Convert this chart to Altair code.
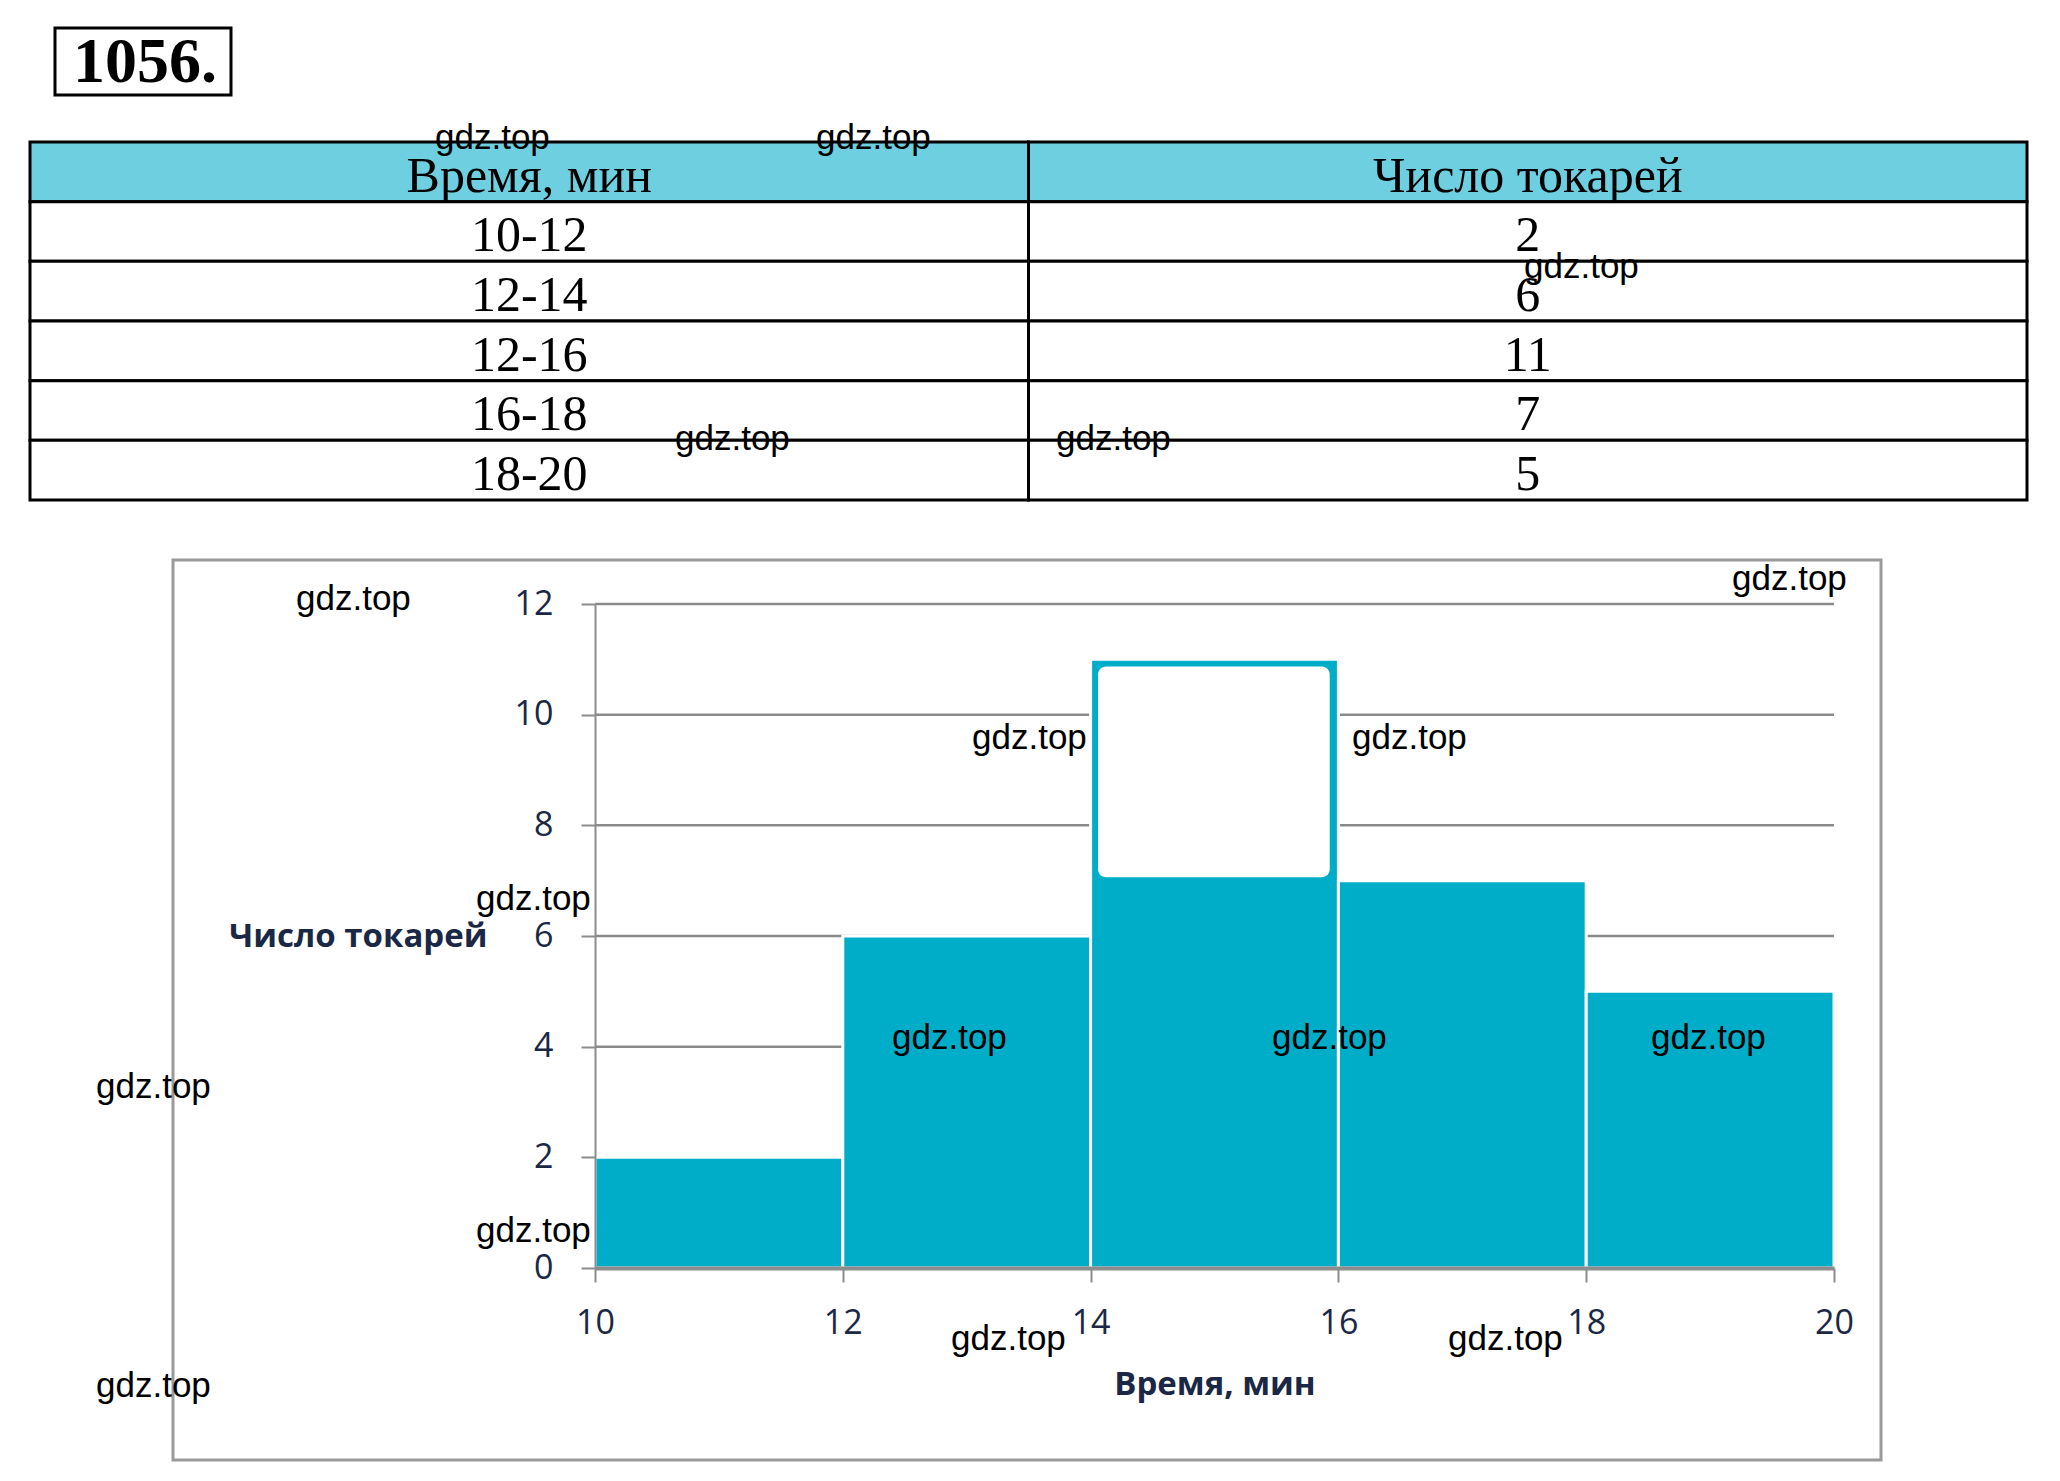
import altair as alt
import pandas as pd

# ---------------- data ----------------
problem_number = "1056."
header = ["Время, мин", "Число токарей"]
time_labels = ["10-12", "12-14", "12-16", "16-18", "18-20"]
bin_start = [10, 12, 14, 16, 18]
bin_end = [12, 14, 16, 18, 20]
counts = [2, 6, 11, 7, 5]
x_ticks = [10, 12, 14, 16, 18, 20]
y_ticks = [0, 2, 4, 6, 8, 10, 12]
grid_values = [2, 4, 6, 8, 10, 12]
x_title = "Время, мин"
y_title = "Число токарей"
watermark = "gdz.top"
# erased (white) patch inside the 14-16 bar, in data units
mask_start = [14.06]
mask_end = [15.93]
mask_top = [10.87]
mask_bottom = [7.06]

# ---------------- layout (page pixels) ----------------
W, H = 2060, 1481
PL, PT, PW, PH = 595, 604, 1239, 664
wm_left = [435, 816, 1524, 675, 1056, 296, 1732, 972, 1352, 476, 96, 892, 1272, 1651, 476, 951, 1448, 96]
wm_mid = [138, 138, 267, 439, 439, 599, 579, 738, 738, 899, 1087, 1038, 1038, 1038, 1231, 1339, 1339, 1386]

one = pd.DataFrame({"t": [problem_number]})

# chart frame
frame = alt.Chart(one).mark_rect(fillOpacity=0, stroke="#9a9a9a", strokeWidth=3).encode(
    x=alt.value(173 - PL), x2=alt.value(1881 - PL),
    y=alt.value(560 - PT), y2=alt.value(1460 - PT))

# problem number box
num_box = alt.Chart(one).mark_rect(fillOpacity=0, stroke="black", strokeWidth=3).encode(
    x=alt.value(55 - PL), x2=alt.value(231 - PL),
    y=alt.value(28 - PT), y2=alt.value(95 - PT))
num_text = alt.Chart(one).mark_text(font="Liberation Serif", fontWeight="bold", fontSize=64,
                                    baseline="alphabetic", align="center", color="black").encode(
    x=alt.value(145 - PL), y=alt.value(82 - PT), text="t:N")

# ---------------- table ----------------
rows = [header] + [[t, str(c)] for t, c in zip(time_labels, counts)]
cells = []
for r, row in enumerate(rows):
    for c, txt in enumerate(row):
        cells.append({"r": r, "r2": r + 1, "c": c, "c2": c + 1, "cm": c + 0.5,
                      "txt": txt, "head": r == 0})
table_df = pd.DataFrame(cells)
tx = alt.Scale(domain=[0, 2], range=[30 - PL, 2027 - PL], nice=False, zero=False)
ty = alt.Scale(domain=[0, 6], range=[142 - PT, 500 - PT], nice=False, zero=False)

cells_layer = alt.Chart(table_df).mark_rect(stroke="black", strokeWidth=3).encode(
    x=alt.X("c:Q", scale=tx, axis=None), x2="c2:Q",
    y=alt.Y("r:Q", scale=ty, axis=None), y2="r2:Q",
    fill=alt.condition("datum.head", alt.value("#6ecfe0"), alt.value("white")))
cells_text = alt.Chart(table_df).mark_text(font="Liberation Serif", fontSize=50,
                                           baseline="alphabetic", dy=-10, color="black").encode(
    x=alt.X("cm:Q", scale=tx, axis=None),
    y=alt.Y("r2:Q", scale=ty, axis=None),
    text="txt:N")
table = alt.layer(cells_layer, cells_text)

# ---------------- histogram ----------------
hist_df = pd.DataFrame({"start": bin_start, "end": bin_end, "n": counts})
grid_df = pd.DataFrame({"n": grid_values})
mask_df = pd.DataFrame({"start": mask_start, "end": mask_end, "n": mask_top, "n2": mask_bottom})

xs = alt.Scale(domain=[10, 20], nice=False, zero=False)
ys = alt.Scale(domain=[0, 12], nice=False)

navy = "#1a2745"
x_axis = alt.Axis(orient="bottom", values=x_ticks, grid=False, title=x_title, format="d",
                  domainColor="#8c8c8c", domainWidth=4, tickColor="#8c8c8c", tickWidth=2, tickSize=14,
                  labelFont="Open Sans", labelFontSize=34, labelColor=navy, labelPadding=24,
                  labelFlush=False, labelOverlap=False,
                  titleFont="Open Sans", titleFontSize=33, titleFontWeight="bold", titleColor=navy,
                  titleY=116, titleBaseline="middle", zindex=1)
y_axis = alt.Axis(orient="left", values=y_ticks, grid=False, title=y_title, format="d",
                  domainColor="#8c8c8c", domainWidth=2, tickColor="#8c8c8c", tickWidth=2, tickSize=14,
                  labelFont="Open Sans", labelFontSize=34, labelColor=navy, labelPadding=28,
                  labelFlush=False, labelOverlap=False,
                  titleFont="Open Sans", titleFontSize=33, titleFontWeight="bold", titleColor=navy,
                  titleAngle=0, titleAlign="right", titleBaseline="middle",
                  titleX=-108, titleY=PH / 2, zindex=1)

grid = alt.Chart(grid_df).mark_rule(color="#8a8a8a", strokeWidth=2.5).encode(
    y=alt.Y("n:Q", scale=ys, axis=y_axis))
bars = alt.Chart(hist_df).mark_rect(fill="#00adc8", stroke="white", strokeWidth=3).encode(
    x=alt.X("start:Q", scale=xs, axis=x_axis), x2="end:Q",
    y=alt.Y("n:Q", scale=ys, axis=y_axis), y2=alt.datum(0))
mask = alt.Chart(mask_df).mark_rect(fill="white", cornerRadius=8).encode(
    x=alt.X("start:Q", scale=xs, axis=x_axis), x2="end:Q",
    y=alt.Y("n:Q", scale=ys, axis=y_axis), y2="n2:Q")
hist = alt.layer(grid, bars, mask)

# ---------------- watermarks ----------------
wm_df = pd.DataFrame({"x": [v - PL for v in wm_left], "y": [v - PT for v in wm_mid],
                      "t": [watermark] * len(wm_left)})
marks = alt.Chart(wm_df).mark_text(font="Liberation Sans", fontSize=35, align="left",
                                   baseline="middle", color="black").encode(
    x=alt.X("x:Q", scale=None), y=alt.Y("y:Q", scale=None), text="t:N")

chart = alt.layer(frame, num_box, num_text, table, hist, marks).resolve_scale(
    x="independent", y="independent"
).properties(
    width=PW, height=PH,
    padding={"left": PL, "top": PT, "right": W - PL - PW, "bottom": H - PT - PH},
    autosize=alt.AutoSizeParams(type="none"),
    background="white",
).configure_view(strokeWidth=0)

chart.save("out.html", embed_options={"renderer": "svg", "actions": False})
